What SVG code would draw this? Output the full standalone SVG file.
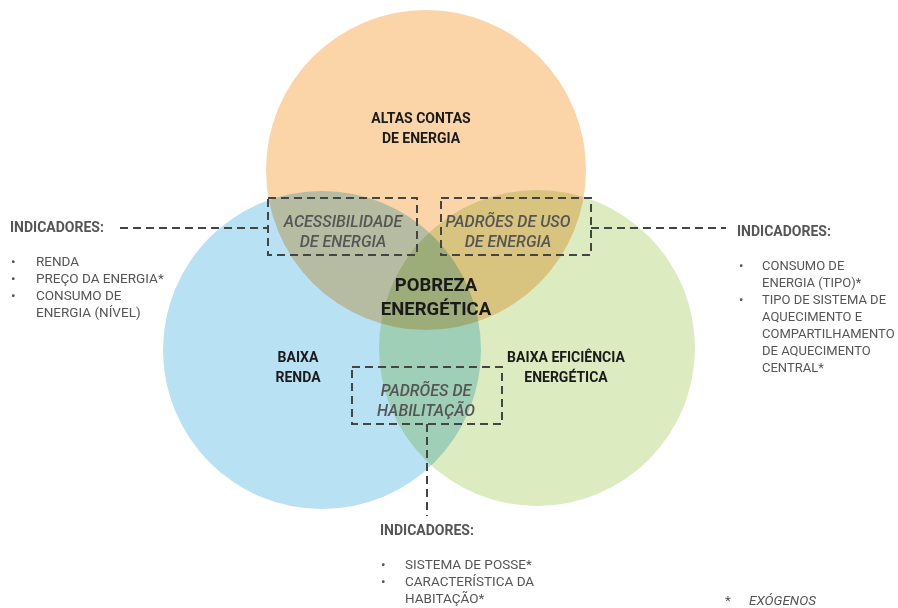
<svg xmlns="http://www.w3.org/2000/svg" width="898" height="608" viewBox="0 0 898 608">
<style>
.c{mix-blend-mode:multiply}
.t{font-family:Roboto,"Liberation Sans",sans-serif;fill:#1a1a1a;font-weight:bold}
.h{font-family:Roboto,"Liberation Sans",sans-serif;fill:#555;font-weight:bold;font-size:14px}
.i{font-family:Roboto,"Liberation Sans",sans-serif;fill:#555;font-size:13.5px}
.r{font-size:13px}
.m{font-family:Roboto,"Liberation Sans",sans-serif;fill:#555;font-style:italic;font-weight:500;font-size:16px;text-anchor:middle}
.d{fill:none;stroke:#444;stroke-width:2;stroke-dasharray:8 5}
</style>
<rect width="898" height="608" fill="#fff"/>
<g id="circles">
<circle id="altas" class="c" cx="426" cy="170" r="160" fill="#fbd5a8"/>
<circle id="renda" class="c" cx="322" cy="350" r="159" fill="#b9e1f4"/>
<circle id="eficiencia" class="c" cx="537" cy="348" r="158" fill="#dcebc0"/>
</g>
<g id="connectors">
<line class="d" x1="120" y1="228" x2="268" y2="228"/>
<line class="d" x1="591" y1="228" x2="726" y2="228"/>
<line class="d" x1="427" y1="424" x2="427" y2="516"/>
</g>
<g id="labels">
<text class="t" font-size="14" text-anchor="middle" x="421" y="123">ALTAS CONTAS</text>
<text class="t" font-size="14" text-anchor="middle" x="421" y="143">DE ENERGIA</text>
<text class="t" font-size="18.5" text-anchor="middle" x="436" y="291">POBREZA</text>
<text class="t" font-size="18.5" text-anchor="middle" x="436" y="315">ENERGÉTICA</text>
<text class="t" font-size="14" text-anchor="middle" x="298" y="362">BAIXA</text>
<text class="t" font-size="14" text-anchor="middle" x="298" y="382">RENDA</text>
<text class="t" font-size="14" text-anchor="middle" x="566" y="362">BAIXA EFICIÊNCIA</text>
<text class="t" font-size="14" text-anchor="middle" x="566" y="382">ENERGÉTICA</text>
</g>
<g id="acessibilidade">
<rect class="d" x="268" y="198" width="149" height="57"/>
<text class="m" x="343" y="227">ACESSIBILIDADE</text>
<text class="m" x="343" y="247">DE ENERGIA</text>
</g>
<g id="padroes-uso">
<rect class="d" x="441" y="198" width="150" height="57"/>
<text class="m" x="508" y="227">PADRÕES DE USO</text>
<text class="m" x="508" y="247">DE ENERGIA</text>
</g>
<g id="padroes-habitacao">
<rect class="d" x="352" y="367" width="150" height="57"/>
<text class="m" x="426" y="396">PADRÕES DE</text>
<text class="m" x="426" y="416">HABILITAÇÃO</text>
</g>
<g id="ind-left">
<text class="h" x="10" y="232">INDICADORES:</text>
<text class="i" x="11" y="266">•</text><text class="i" x="36" y="266">RENDA</text>
<text class="i" x="11" y="283">•</text><text class="i" x="36" y="283">PREÇO DA ENERGIA*</text>
<text class="i" x="11" y="300">•</text><text class="i" x="36" y="300">CONSUMO DE</text>
<text class="i" x="36" y="317">ENERGIA (NÍVEL)</text>
</g>
<g id="ind-right">
<text class="h" x="737" y="236">INDICADORES:</text>
<text class="i r" x="739" y="270">•</text><text class="i r" x="762" y="270">CONSUMO DE</text>
<text class="i r" x="762" y="287">ENERGIA (TIPO)*</text>
<text class="i r" x="739" y="304">•</text><text class="i r" x="762" y="304">TIPO DE SISTEMA DE</text>
<text class="i r" x="762" y="321">AQUECIMENTO E</text>
<text class="i r" x="762" y="338">COMPARTILHAMENTO</text>
<text class="i r" x="762" y="355">DE AQUECIMENTO</text>
<text class="i r" x="762" y="372">CENTRAL*</text>
</g>
<g id="ind-bottom">
<text class="h" x="380" y="535">INDICADORES:</text>
<text class="i" x="381" y="569">•</text><text class="i" x="405" y="569">SISTEMA DE POSSE*</text>
<text class="i" x="381" y="586">•</text><text class="i" x="405" y="586">CARACTERÍSTICA DA</text>
<text class="i" x="405" y="603">HABITAÇÃO*</text>
</g>
<g id="legend">
<text class="i" x="725" y="605">*</text>
<text class="i" x="749" y="605" font-style="italic">EXÓGENOS</text>
</g>
</svg>
